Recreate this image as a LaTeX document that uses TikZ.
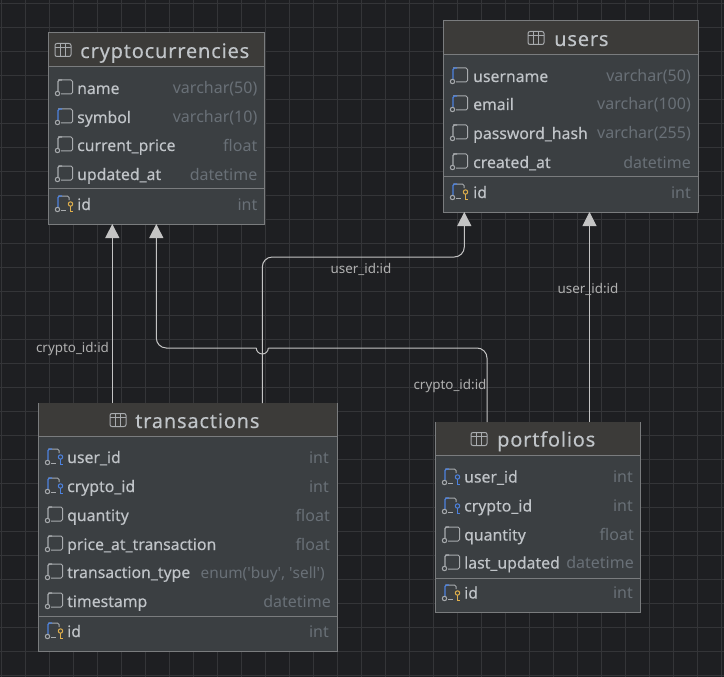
\documentclass[tikz,border=0pt]{standalone}
\usepackage{fontspec}
\setmainfont{Noto Sans}
\newfontfamily\titlefont[LetterSpace=4,FakeBold=0.2]{Noto Sans}
\newfontfamily\namefont[FakeBold=0.2]{Noto Sans}
\usetikzlibrary{arrows.meta}
\definecolor{canvasbg}{HTML}{1E1F22}
\definecolor{gridline}{HTML}{343538}
\definecolor{tablefill}{HTML}{3B3F42}
\definecolor{headfill}{HTML}{3C3B39}
\definecolor{tableedge}{HTML}{7A7C7E}
\definecolor{fieldtext}{HTML}{C0C4C8}
\definecolor{typetext}{HTML}{697077}
\definecolor{linkline}{HTML}{C4C4C4}
\definecolor{barblue}{HTML}{4C82E0}
\definecolor{keygold}{HTML}{E0B04C}
\definecolor{icongray}{HTML}{A8ABAE}
\tikzset{
  tablebox/.style={draw=tableedge,line width=1pt,fill=tablefill,inner sep=0pt,outer sep=0pt},
  headbox/.style={fill=headfill,inner sep=0pt,outer sep=0pt},
  sepline/.style={draw=tableedge,line width=1pt},
  titlelabel/.style={anchor=base west,inner sep=0pt,text=fieldtext,font=\titlefont\fontsize{20}{20}\selectfont},
  fieldname/.style={anchor=base west,inner sep=0pt,text=fieldtext,font=\namefont\fontsize{15.8}{15.8}\selectfont},
  fieldtype/.style={anchor=base east,inner sep=0pt,text=typetext,font=\fontsize{16}{16}\selectfont},
  linklabel/.style={inner sep=0pt,text=linkline!90!black,font=\fontsize{13.4}{13.4}\selectfont},
  linkpart/.style={draw=linkline,line width=1pt},
  linkline/.style={linkpart,-{Triangle[width=14pt,length=14pt,color=linkline]}},
  iconline/.style={draw=icongray,line width=1pt},
}
% column icon: x, y, colour of the bar
\newcommand{\fieldicon}[3]{
  \begin{scope}[shift={(#1,#2)}]
    \draw[iconline,rounded corners=1.5pt] (3,-8) -- (17.5,-8) -- (17.5,6) -- (6,6);
    \draw[draw=#3,line width=1.2pt,rounded corners=1.5pt] (3,3) -- (3,-8) -- (7,-8);
    \draw[iconline] (2.5,5.5) circle (2.2pt);
  \end{scope}
}
% column icon with a key: x, y, colour of the bar, colour of the key
\newcommand{\keyicon}[4]{
  \begin{scope}[shift={(#1,#2)}]
    \draw[iconline,rounded corners=1.5pt] (3,-8) -- (14,-8) -- (14,-4);
    \draw[iconline] (6,6) -- (11,6);
    \draw[draw=#3,line width=1.2pt,rounded corners=1.5pt] (3,3) -- (3,-8) -- (7,-8);
    \draw[iconline] (2.5,5.5) circle (2.2pt);
    \draw[draw=#4,line width=1pt] (15.5,0) circle (2.2pt);
    \draw[draw=#4,line width=1pt] (15.5,2.2) -- (15.5,7) -- (18,7);
  \end{scope}
}
% table icon: x, y
\newcommand{\tableicon}[2]{
  \begin{scope}[shift={(#1,#2)}]
    \draw[iconline,rounded corners=2pt] (0,-6.5) rectangle (16,6.5);
    \draw[iconline] (0,-2.5) -- (16,-2.5);
    \draw[iconline] (5.3,-6.5) -- (5.3,6.5);
    \draw[iconline] (10.7,-6.5) -- (10.7,6.5);
  \end{scope}
}
\begin{document}
\begin{tikzpicture}[x=1pt,y=-1pt]
  \fill[canvasbg] (0,0) rectangle (724,677);
  \useasboundingbox (0,0) rectangle (724,677);
  \foreach \gx in {0,...,30}
    \draw[gridline,line width=1pt] (1.3+24*\gx,0) -- (1.3+24*\gx,677);
  \foreach \gy in {0,...,28}
    \draw[gridline,line width=1pt] (0,3.3+24*\gy) -- (724,3.3+24*\gy);

  % cryptocurrencies
  \node[tablebox,minimum width=216pt,minimum height=191pt] (crypto) at (156.5,128.5) {};
  \node[headbox,minimum width=215pt,minimum height=33.5pt,anchor=north] (cryptohead) at (crypto.north) {};
  \draw[sepline] (crypto.west |- cryptohead.south) -- (crypto.east |- cryptohead.south);
  \tableicon{55}{50}
  \node[titlelabel] (cryptotitle) at (80,58) {cryptocurrencies};
  \foreach \nm/\lbl/\typ/\yy/\barc in {cname/name/varchar(50)/88/icongray,csymbol/symbol/varchar(10)/117/barblue,cprice/current\_price/float/145/icongray,cupdated/updated\_at/datetime/174/icongray} {
    \fieldicon{55}{\yy}{\barc}
    \node[fieldname] (\nm) at (77,\yy+6) {\lbl};
    \node[fieldtype] (\nm type) at (257.5,\yy+6) {\typ};
  }
  \draw[sepline] (crypto.west |- 0,188.5) -- (crypto.east |- 0,188.5);
  \keyicon{55}{204}{barblue}{keygold}
  \node[fieldname] (cid) at (77,210) {id};
  \node[fieldtype] (cidtype) at (257.5,210) {int};

  % users
  \node[tablebox,minimum width=254.5pt,minimum height=191pt] (users) at (570.8,116.5) {};
  \node[headbox,minimum width=253.5pt,minimum height=33.5pt,anchor=north] (usershead) at (users.north) {};
  \draw[sepline] (users.west |- usershead.south) -- (users.east |- usershead.south);
  \tableicon{528}{38}
  \node[titlelabel] (userstitle) at (554,46) {users};
  \foreach \nm/\lbl/\typ/\yy/\barc in {uname/username/varchar(50)/76/barblue,umail/email/varchar(100)/104/barblue,uhash/password\_hash/varchar(255)/133/icongray,ucreated/created\_at/datetime/162/icongray} {
    \fieldicon{450}{\yy}{\barc}
    \node[fieldname] (\nm) at (473,\yy+6) {\lbl};
    \node[fieldtype] (\nm type) at (691,\yy+6) {\typ};
  }
  \draw[sepline] (users.west |- 0,176.5) -- (users.east |- 0,176.5);
  \keyicon{450}{192}{barblue}{keygold}
  \node[fieldname] (uid) at (473,198) {id};
  \node[fieldtype] (uidtype) at (691,198) {int};

  % transactions
  \node[tablebox,minimum width=298.5pt,minimum height=248pt] (trans) at (187.8,527) {};
  \node[headbox,minimum width=297.5pt,minimum height=33.5pt,anchor=north] (transhead) at (trans.north) {};
  \draw[sepline] (trans.west |- transhead.south) -- (trans.east |- transhead.south);
  \tableicon{110}{420}
  \node[titlelabel] (transtitle) at (135,428) {transactions};
  \foreach \nm/\lbl/\typ/\yy/\barc/\tx in {tquant/quantity/float/515/icongray/330,tprice/price\_at\_transaction/float/544/icongray/330,tkind/transaction\_type/{\fontsize{15.4}{15.4}\selectfont enum(\textquotesingle buy\textquotesingle, \textquotesingle sell\textquotesingle)}/572/icongray/325,tstamp/timestamp/datetime/601/icongray/331} {
    \fieldicon{45}{\yy}{\barc}
    \node[fieldname] (\nm) at (67,\yy+6) {\lbl};
    \node[fieldtype] (\nm type) at (\tx,\yy+6) {\typ};
  }
  \foreach \nm/\lbl/\yy in {tuser/user\_id/457,tcrypto/crypto\_id/486} {
    \keyicon{45}{\yy}{barblue}{barblue}
    \node[fieldname] (\nm) at (67,\yy+6) {\lbl};
    \node[fieldtype] (\nm type) at (329,\yy+6) {int};
  }
  \draw[sepline] (trans.west |- 0,616.5) -- (trans.east |- 0,616.5);
  \keyicon{45}{631}{barblue}{keygold}
  \node[fieldname] (tid) at (67,637) {id};
  \node[fieldtype] (tidtype) at (329,637) {int};

  % portfolios
  \node[tablebox,minimum width=204.5pt,minimum height=190pt] (port) at (537.8,517) {};
  \node[headbox,minimum width=203.5pt,minimum height=33.5pt,anchor=north] (porthead) at (port.north) {};
  \draw[sepline] (port.west |- porthead.south) -- (port.east |- porthead.south);
  \tableicon{471}{439}
  \node[titlelabel] (porttitle) at (497,446.5) {portfolios};
  \foreach \nm/\lbl/\yy in {puser/user\_id/477,pcrypto/crypto\_id/506} {
    \keyicon{442}{\yy}{barblue}{barblue}
    \node[fieldname] (\nm) at (464,\yy+5.5) {\lbl};
    \node[fieldtype] (\nm type) at (633,\yy+5.5) {int};
  }
  \foreach \nm/\lbl/\typ/\yy in {pquant/quantity/float/535,pupdated/last\_updated/datetime/563} {
    \fieldicon{442}{\yy}{icongray}
    \node[fieldname] (\nm) at (464,\yy+5.5) {\lbl};
    \node[fieldtype] (\nm type) at (634,\yy+5.5) {\typ};
  }
  \draw[sepline] (port.west |- 0,578.5) -- (port.east |- 0,578.5);
  \keyicon{442}{593}{barblue}{keygold}
  \node[fieldname] (pid) at (464,598.5) {id};
  \node[fieldtype] (pidtype) at (633,598.5) {int};

  % links
  \coordinate (hopright) at (268.3,348);
  \coordinate (hopleft) at (256.3,348);
  \draw[linkline] ([xshift=-75.5pt]trans.north) -- ([xshift=-44.2pt]crypto.south);
  \draw[linkline,rounded corners=10pt] ([xshift=74.5pt]trans.north) -- (262.3,257) -- (464.3,257) -- ([xshift=-106.5pt]users.south);
  \draw[linkline] ([xshift=51.7pt]port.north) -- ([xshift=18.7pt]users.south);
  \draw[linkpart,rounded corners=10pt] ([xshift=-50.8pt]port.north) -- (487,348) -- (hopright);
  \draw[linkpart] (hopright) arc[start angle=0,end angle=-180,radius=6pt];
  \draw[linkline,rounded corners=10pt] (hopleft) -- (156.3,348) -- ([xshift=-0.2pt]crypto.south);
  \node[linklabel] (lblcryptoa) at (72.5,349) {crypto\_id:id};
  \node[linklabel] (lbluserb) at (361,269.5) {user\_id:id};
  \node[linklabel] (lblcryptob) at (450,386) {crypto\_id:id};
  \node[linklabel] (lbluserc) at (588,289) {user\_id:id};
\end{tikzpicture}
\end{document}
